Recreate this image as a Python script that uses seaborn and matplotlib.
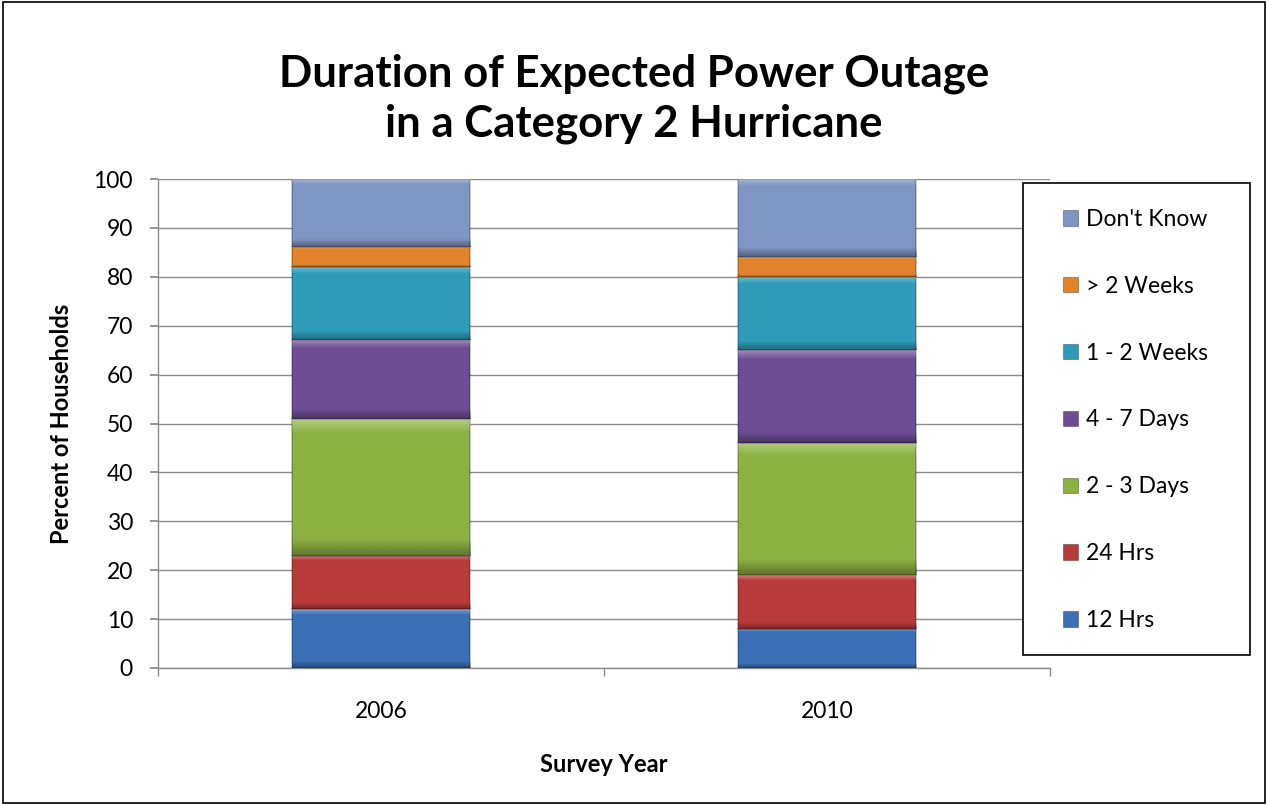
import numpy as np
import pandas as pd
import matplotlib
matplotlib.use("Agg")
import matplotlib.pyplot as plt
from matplotlib.patches import Rectangle, Patch
import seaborn as sns

# Survey data: percent of households by expected outage duration
years = ["2006", "2010"]
categories = ["12 Hrs", "24 Hrs", "2 - 3 Days", "4 - 7 Days", "1 - 2 Weeks", "> 2 Weeks", "Don't Know"]
hrs12 = [12, 8]
hrs24 = [11, 11]
days2_3 = [28, 27]
days4_7 = [16, 19]
weeks1_2 = [15, 15]
weeks_gt2 = [4, 4]
dont_know = [14, 16]
series = [hrs12, hrs24, days2_3, days4_7, weeks1_2, weeks_gt2, dont_know]
colors = ["#3b6fb6", "#b83b3a", "#8db243", "#6d4e94", "#2e9cb8", "#e2822a", "#7f95c3"]

yticks = list(range(0, 101, 10))

sns.set_theme(style="white")
plt.rcParams["font.family"] = ["Lato", "DejaVu Sans"]
plt.rcParams["text.color"] = "black"
plt.rcParams["axes.labelcolor"] = "black"
plt.rcParams["xtick.color"] = "black"
plt.rcParams["ytick.color"] = "black"

W, H = 1268, 805
fig = plt.figure(figsize=(W / 100, H / 100), dpi=100)
ax = fig.add_axes([158 / W, 1 - 668 / H, (1050 - 158) / W, (668 - 179) / H])

bottom = np.zeros(len(years))
for vals, col in zip(series, colors):
    sns.barplot(x=years, y=vals, bottom=bottom, color=col, width=0.4,
                saturation=1, ax=ax, edgecolor=col, linewidth=0, zorder=3)
    bottom = bottom + np.array(vals)

# Soft bevel shading on each segment: light top rim, dark bottom rim
grad = np.linspace(0, 1, 256).reshape(-1, 1)
for p in list(ax.patches):
    x0, y0 = p.get_x(), p.get_y()
    w, h = p.get_width(), p.get_height()
    shade = np.zeros((256, 1, 4))
    a = np.where(grad > 0.9, (grad - 0.9) / 0.1 * 0.35, 0.0)
    d = np.where(grad < 0.12, (0.12 - grad) / 0.12 * 0.35, 0.0)
    shade[..., :3] = np.where(a[..., None] > 0, 1.0, 0.0)
    shade[..., 3] = a + d
    im = ax.imshow(shade, extent=(x0, x0 + w, y0, y0 + h), origin="lower",
                   aspect="auto", zorder=4, interpolation="bilinear")
    im.set_clip_path(p)
    p.set_edgecolor((0, 0, 0, 0.25))
    p.set_linewidth(1.2)

ax.set_xlim(-0.5, 1.5)
ax.set_ylim(0, 100)
ax.set_yticks(yticks)
ax.set_yticklabels([str(t) for t in yticks], fontsize=16.5)
ax.tick_params(axis="x", labelsize=16.5, pad=24, length=0)
ax.tick_params(axis="y", length=6, color="#888888", direction="out", left=True, pad=12)
ax.yaxis.grid(True, color="#8c8c8c", linewidth=1.0, zorder=0)
ax.set_axisbelow(True)
for s in ["top", "right"]:
    ax.spines[s].set_visible(False)
for s in ["left", "bottom"]:
    ax.spines[s].set_color("#8c8c8c")
    ax.spines[s].set_linewidth(1.0)

# category separator ticks on the x axis
ax.set_xticks([-0.5, 0.5, 1.5], minor=True)
ax.tick_params(axis="x", which="minor", length=6, color="#8c8c8c", direction="out", bottom=True)

ax.set_ylabel("Percent of Households", fontsize=17, fontweight="bold", labelpad=15)
ax.set_xlabel("Survey Year", fontsize=17, fontweight="bold", labelpad=22)

fig.suptitle("Duration of Expected Power Outage\nin a Category 2 Hurricane",
             fontsize=31.5, fontweight="bold", y=0.934, linespacing=1.3)

# legend box
fig.add_artist(Rectangle((1023 / W, 1 - 655 / H), (1250 - 1023) / W, (655 - 183) / H,
                         transform=fig.transFigure, facecolor="white",
                         edgecolor="black", linewidth=1.2, zorder=9))
handles = [Patch(facecolor=c, edgecolor=(0, 0, 0, 0.3), linewidth=0.8) for c in colors]
leg = fig.legend(handles[::-1], categories[::-1], loc="upper left",
                 bbox_to_anchor=(1063 / W, 1 - 209 / H),
                 fontsize=16.5, frameon=False,
                 labelspacing=2.0, handlelength=0.65, handleheight=0.65,
                 handletextpad=0.35, borderpad=0, borderaxespad=0)
leg.set_zorder(10)

# outer chart border
fig.add_artist(Rectangle((0.002, 0.002), 0.996, 0.996, transform=fig.transFigure,
                         fill=False, edgecolor="black", linewidth=1.2))

fig.savefig("out.png", dpi=100)
